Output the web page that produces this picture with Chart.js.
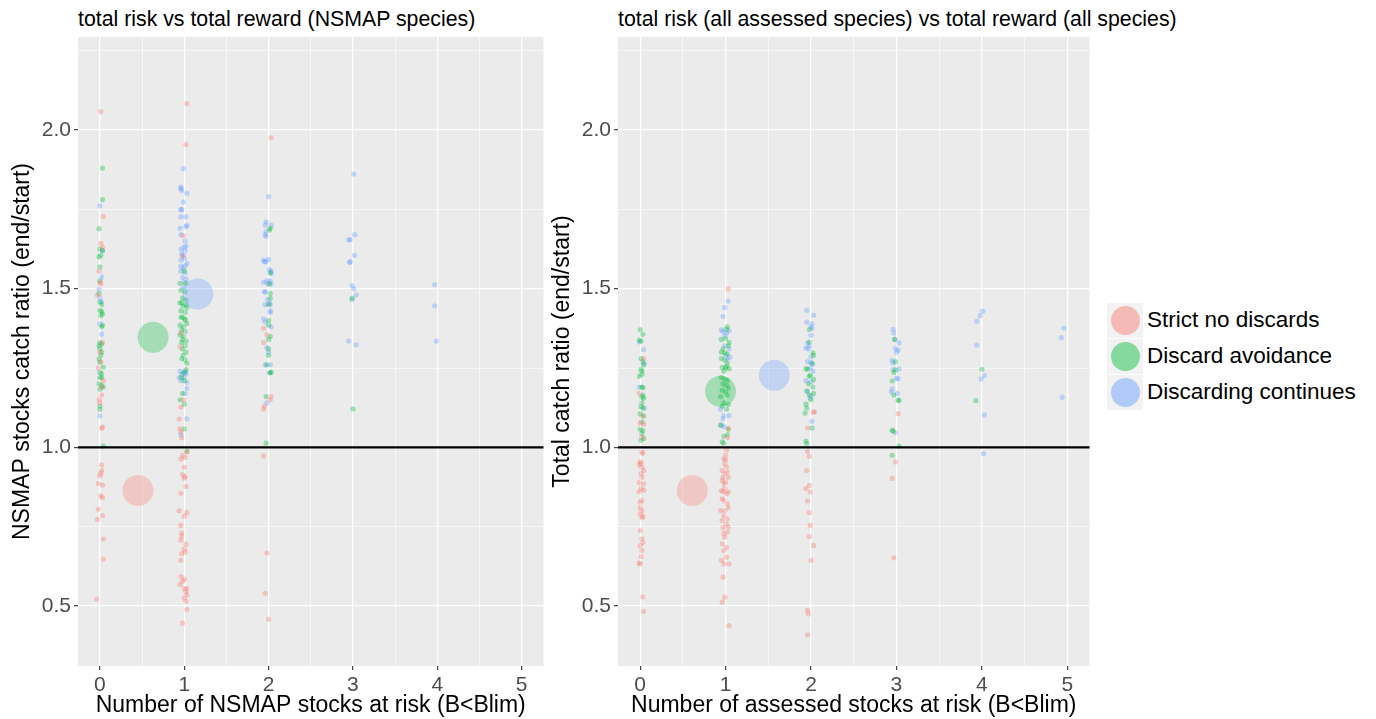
<!DOCTYPE html>
<html>
<head>
<meta charset="utf-8">
<script src="https://cdn.jsdelivr.net/npm/chart.js@4.4.1/dist/chart.umd.min.js"></script>
<style>
body { margin: 0; background: #fff; font-family: "Liberation Sans", Arial, sans-serif; }
#wrap { position: relative; width: 1376px; height: 719px; }
canvas { position: absolute; top: 0; }
.title { position: absolute; top: 6px; font-size: 21.3px; line-height: 26px; color: #000; white-space: nowrap; }
#legend { position: absolute; left: 1107px; top: 302px; }
.row { display: flex; align-items: center; height: 36px; }
.key { width: 36px; height: 35px; background: #f2f2f2; display: flex; align-items: center; justify-content: center; }
.dot { width: 29px; height: 29px; border-radius: 50%; }
.lab { font-size: 22.5px; margin-left: 4px; color: #000; white-space: nowrap; }
</style>
</head>
<body>
<div id="wrap">
  <div class="title" style="left:78px">total risk vs total reward (NSMAP species)</div>
  <div class="title" style="left:618px">total risk (all assessed species) vs total reward (all species)</div>
  <canvas id="nsmapChart" width="559" height="719" style="left:0px"></canvas>
  <canvas id="allChart" width="560" height="719" style="left:545px"></canvas>
  <div id="legend"></div>
</div>

<script>
/* DATA */

const groupNames = ['Strict no discards', 'Discard avoidance', 'Discarding continues'];
const groupColors = ['#F8766D', '#00BA38', '#619CFF'];

const xTicks = [0, 0.5, 1, 1.5, 2, 2.5, 3, 3.5, 4, 4.5, 5];
const xTickLabels = ['0', '', '1', '', '2', '', '3', '', '4', '', '5'];
const yTicks = [0.5, 0.75, 1.0, 1.25, 1.5, 1.75, 2.0, 2.25];
const yTickLabels = ['0.5', '', '1.0', '', '1.5', '', '2.0', ''];
const refValue = 1.0;

// left panel: NSMAP species, [stocks at risk (jittered), catch ratio]
const nsmapStrict = [
[0.01,2.058],[0.04,1.727],[0.01,1.643],[0.03,1.63],[-0.01,1.555],[0.0,1.52],[0.01,1.515],[-0.03,1.48],
[0.03,1.33],[0.0,1.30],[0.01,1.27],[-0.02,1.25],[0.04,1.21],[0.02,1.19],[0.02,1.165],[-0.01,1.15],[0.0,1.14],
[0.03,1.064],[0.02,1.06],[0.02,0.944],[0.02,0.927],[0.01,0.918],[0.0,0.91],[-0.02,0.886],[0.03,0.881],
[0.01,0.847],[0.03,0.842],[-0.02,0.805],[0.03,0.785],[-0.03,0.773],[0.04,0.711],[0.04,0.648],[-0.04,0.522],
[1.03,2.083],[1.02,1.954],[0.99,1.667],[0.98,1.603],[0.96,1.36],[0.95,1.316],[0.99,1.15],[0.96,1.127],
[0.94,1.089],[0.95,1.058],[0.96,1.048],[0.97,1.03],[1.03,0.985],[0.98,0.975],[1.01,0.968],[0.96,0.963],
[1.0,0.937],[0.98,0.915],[1.01,0.908],[1.0,0.903],[1.02,0.877],[0.96,0.855],[0.94,0.80],[1.03,0.795],
[1.0,0.783],[0.96,0.754],[0.97,0.73],[0.97,0.72],[0.96,0.708],[1.02,0.695],[1.0,0.68],[1.01,0.67],
[0.97,0.665],[0.96,0.644],[0.96,0.593],[1.0,0.585],[0.98,0.578],[0.95,0.568],[1.0,0.555],[1.03,0.555],
[1.02,0.545],[1.03,0.535],[1.0,0.525],[1.02,0.515],[1.03,0.489],[0.98,0.446],
[2.03,1.976],[1.94,1.375],[1.98,1.355],[1.94,1.33],[2.03,1.16],[2.02,1.15],[1.95,1.13],[1.94,1.12],
[1.94,0.973],[1.98,0.667],[1.96,0.54],[2.0,0.458]
];
const nsmapAvoid = [
[0.03,1.88],[0.03,1.781],[-0.01,1.689],[0.0,1.625],[0.03,1.62],[-0.01,1.60],[0.01,1.605],[0.0,1.569],
[0.0,1.525],[-0.01,1.485],[0.0,1.458],[0.02,1.45],[0.0,1.432],[0.02,1.428],[0.03,1.42],[0.01,1.415],
[0.03,1.385],[0.02,1.38],[0.0,1.33],[0.02,1.325],[-0.01,1.32],[0.0,1.31],[0.02,1.30],[0.01,1.29],
[-0.01,1.278],[0.0,1.268],[0.04,1.253],[0.0,1.236],[0.02,1.232],[0.0,1.22],[0.02,1.22],[-0.01,1.20],
[0.02,1.195],[0.04,1.19],[0.0,1.183],[0.0,1.13],[0.0,1.12],[0.04,1.004],
[1.0,1.555],[0.95,1.517],[1.02,1.517],[0.96,1.495],[1.01,1.49],[0.98,1.47],[1.02,1.465],[0.95,1.455],
[0.99,1.445],[0.96,1.43],[1.01,1.425],[0.98,1.41],[1.01,1.405],[0.97,1.455],[1.02,1.45],[1.03,1.44],
[0.96,1.41],[1.01,1.40],[1.03,1.39],[0.95,1.385],[0.99,1.38],[0.97,1.37],[1.01,1.365],[0.95,1.355],
[0.99,1.35],[0.98,1.34],[1.02,1.335],[0.97,1.33],[1.01,1.32],[0.98,1.31],[1.02,1.30],[0.99,1.29],
[0.97,1.28],[1.01,1.275],[1.03,1.265],[1.02,1.245],[0.99,1.235],[0.97,1.22],[1.0,1.21],[0.98,1.17],
[0.95,1.15],[1.0,1.136],[1.0,1.058],[1.03,0.988],
[2.02,1.69],[2.01,1.685],[2.02,1.55],[2.01,1.515],[2.02,1.485],[2.02,1.47],[2.0,1.45],[2.0,1.40],
[2.0,1.385],[2.02,1.35],[2.0,1.34],[2.0,1.31],[2.0,1.29],[1.98,1.26],[2.02,1.235],[2.03,1.237],
[1.97,1.16],[1.97,1.013],
[2.99,1.47],[3.0,1.121]
];
const nsmapContinue = [
[0.0,1.761],[0.03,1.62],[0.02,1.537],[-0.01,1.498],[0.0,1.47],[0.02,1.458],[0.0,1.39],[0.02,1.356],[0.0,1.099],
[0.99,1.878],[0.96,1.82],[0.97,1.81],[1.03,1.80],[0.96,1.815],[0.99,1.773],[0.96,1.749],[0.97,1.749],
[0.96,1.726],[1.02,1.726],[1.03,1.70],[1.02,1.695],[0.95,1.69],[0.96,1.67],[1.01,1.65],[1.02,1.635],
[1.0,1.63],[0.96,1.625],[1.01,1.62],[0.97,1.61],[0.99,1.605],[0.96,1.59],[1.0,1.595],[1.03,1.58],
[0.96,1.57],[1.01,1.572],[0.99,1.565],[0.96,1.555],[1.01,1.55],[0.98,1.535],[1.02,1.53],[1.0,1.52],
[0.99,1.505],[1.01,1.24],[0.95,1.24],[1.01,1.235],[0.97,1.23],[1.02,1.232],[0.94,1.22],[1.0,1.22],
[0.96,1.21],[1.03,1.205],[1.03,1.186],[1.01,1.17],[1.03,1.09],[0.96,1.04],
[2.0,1.79],[1.97,1.71],[1.96,1.70],[2.03,1.70],[1.97,1.68],[1.96,1.67],[1.97,1.665],[1.94,1.59],
[1.95,1.585],[2.0,1.592],[1.97,1.585],[2.01,1.56],[2.03,1.555],[2.03,1.548],[1.94,1.52],[1.98,1.525],
[2.02,1.525],[2.03,1.515],[1.99,1.515],[1.95,1.49],[1.96,1.49],[1.99,1.466],[2.02,1.45],[2.01,1.455],
[1.96,1.45],[2.02,1.43],[2.02,1.425],[1.94,1.405],[1.96,1.395],[2.03,1.38],[1.98,1.315],[2.0,1.30],
[2.02,1.26],[1.96,1.26],[2.01,1.235],[1.98,1.14],
[3.01,1.861],[3.02,1.67],[2.95,1.654],[2.97,1.654],[3.02,1.605],[2.96,1.583],[2.97,1.585],[2.99,1.51],
[3.01,1.50],[3.04,1.48],[2.99,1.466],[2.95,1.335],[3.04,1.323],
[3.97,1.513],[3.97,1.446],[3.99,1.335]
];
const nsmapMeanX = [0.45, 0.63, 1.16];
const nsmapMeanY = [0.864, 1.347, 1.483];

// right panel: all assessed species / all species
const allStrict = [
[0.04,1.28],[-0.01,1.17],[0.02,1.099],[0.0,1.076],[0.04,1.073],[0.02,1.032],[0.02,0.985],[0.03,0.981],
[0.0,0.954],[0.01,0.95],[-0.01,0.945],[0.02,0.937],[0.04,0.927],[0.01,0.917],[0.02,0.906],[-0.01,0.889],
[0.04,0.885],[0.01,0.87],[0.04,0.865],[-0.01,0.86],[0.02,0.833],[0.0,0.827],[0.0,0.81],[0.02,0.80],
[0.0,0.79],[0.03,0.783],[0.02,0.778],[0.0,0.738],[0.02,0.712],[0.03,0.70],[0.0,0.69],[0.02,0.675],
[0.01,0.656],[-0.01,0.635],[0.0,0.633],[0.03,0.529],[0.04,0.483],
[1.03,1.499],[1.03,1.06],[1.02,1.03],[1.01,0.991],[1.0,0.975],[0.98,0.964],[1.0,0.96],[0.99,0.948],
[1.01,0.938],[0.96,0.927],[1.02,0.922],[0.99,0.917],[1.03,0.906],[0.97,0.905],[0.96,0.896],[1.0,0.89],
[0.98,0.885],[0.99,0.87],[0.95,0.864],[1.03,0.86],[0.97,0.86],[1.01,0.854],[0.96,0.838],[0.98,0.833],
[1.02,0.822],[1.03,0.81],[0.94,0.801],[0.99,0.80],[0.98,0.785],[1.02,0.775],[0.96,0.77],[1.01,0.759],
[1.03,0.749],[0.97,0.747],[1.02,0.733],[0.98,0.728],[0.99,0.717],[0.96,0.696],[1.01,0.685],[0.98,0.675],
[1.01,0.654],[0.95,0.644],[0.98,0.633],[1.04,0.633],[0.97,0.591],[0.99,0.528],[0.96,0.512],[1.04,0.438],
[2.03,1.11],[2.04,1.112],[1.96,1.061],[1.96,0.987],[1.98,0.972],[1.95,0.927],[1.94,0.87],[1.98,0.88],
[1.99,0.859],[1.96,0.831],[1.98,0.794],[1.99,0.754],[1.98,0.719],[2.03,0.691],[2.0,0.644],[1.96,0.486],
[1.97,0.475],[1.96,0.409],
[3.02,1.106],[2.99,0.954],[2.95,0.902],[2.97,0.652]
];
const allAvoid = [
[0.0,1.371],[0.03,1.356],[-0.01,1.338],[0.01,1.335],[0.01,1.28],[0.03,1.27],[0.04,1.26],[0.01,1.246],
[0.02,1.24],[0.02,1.23],[-0.01,1.224],[0.02,1.19],[0.03,1.188],[0.03,1.165],[0.02,1.158],[0.04,1.155],
[0.02,1.14],[0.01,1.128],[0.03,1.124],[0.0,1.106],[0.04,1.099],[0.02,1.08],[0.0,1.057],[0.03,1.053],
[0.02,1.044],[0.04,1.028],[0.01,1.022],
[1.02,1.38],[1.01,1.372],[0.95,1.34],[1.0,1.343],[1.04,1.33],[1.03,1.32],[0.97,1.31],[0.95,1.30],
[0.99,1.298],[1.02,1.294],[0.95,1.28],[0.99,1.275],[1.02,1.265],[0.96,1.252],[1.01,1.255],[1.0,1.25],
[1.04,1.248],[0.98,1.24],[0.95,1.22],[0.99,1.215],[1.02,1.21],[0.97,1.20],[1.01,1.195],[1.03,1.187],
[0.96,1.18],[1.0,1.175],[1.02,1.165],[0.94,1.16],[0.98,1.14],[1.03,1.135],[0.96,1.13],[1.01,1.12],
[0.94,1.07],[1.03,1.057],[1.02,1.04],[0.98,1.035],[0.96,1.017],[0.98,1.013],
[1.98,1.371],[1.98,1.332],[2.02,1.298],[2.03,1.29],[2.01,1.265],[1.94,1.248],[1.96,1.246],[1.99,1.227],
[1.98,1.224],[2.03,1.214],[1.97,1.20],[2.02,1.19],[1.95,1.178],[2.03,1.17],[1.98,1.165],[2.0,1.15],
[1.94,1.136],[1.95,1.124],[1.93,1.108],[2.01,1.061],[1.94,1.02],[1.95,1.012],
[2.98,1.34],[2.99,1.27],[2.99,1.244],[2.97,1.236],[2.95,1.209],[2.97,1.165],[3.02,1.148],[3.03,1.148],
[2.95,1.054],[2.96,1.051],[3.03,1.004],[2.95,0.975],
[4.0,1.246],[3.93,1.147]
];
const allContinue = [
[-0.01,1.332],[0.04,1.308],[0.05,1.265],[-0.01,1.19],[0.05,1.124],
[1.03,1.461],[0.99,1.44],[0.97,1.413],[0.95,1.37],[0.97,1.365],[1.04,1.367],[1.01,1.36],[0.99,1.352],
[0.99,1.32],[1.04,1.31],[1.0,1.29],[1.05,1.284],[1.02,1.278],[0.94,1.12],[0.98,1.10],[1.04,1.10],
[0.97,1.09],[0.95,1.07],[0.98,1.065],
[1.95,1.432],[2.03,1.416],[1.95,1.395],[2.01,1.39],[2.0,1.38],[2.01,1.375],[2.0,1.353],[1.96,1.329],
[1.98,1.32],[1.94,1.313],[1.97,1.31],[2.0,1.285],[1.96,1.27],[2.0,1.268],[2.02,1.262],[1.99,1.25],
[2.02,1.24],[1.94,1.21],[2.0,1.207],[1.96,1.175],[2.0,1.163],[1.99,1.155],[2.01,1.082],
[2.96,1.372],[2.97,1.36],[2.98,1.34],[3.03,1.329],[2.99,1.312],[3.02,1.306],[3.0,1.30],[2.95,1.274],
[2.96,1.266],[3.03,1.247],[2.96,1.245],[3.0,1.218],[3.02,1.216],[2.95,1.184],[2.94,1.174],[3.01,1.17],
[2.99,1.046],
[4.01,1.429],[3.98,1.415],[3.94,1.397],[3.94,1.322],[4.03,1.226],[3.99,1.215],[4.03,1.102],[4.02,0.98],
[4.96,1.376],[4.93,1.346],[4.94,1.158]
];
const allMeanX = [0.61, 0.94, 1.57];
const allMeanY = [0.864, 1.177, 1.227];


/* HELPERS */

function fade(hex, a) {
  const n = parseInt(hex.slice(1), 16);
  return 'rgba(' + (n >> 16) + ',' + ((n >> 8) & 255) + ',' + (n & 255) + ',' + a + ')';
}

const font = '"Liberation Sans", Arial, sans-serif';

const panelBg = {
  id: 'panelBg',
  beforeDraw(chart) {
    const a = chart.chartArea;
    const ctx = chart.ctx;
    ctx.save();
    ctx.fillStyle = '#EBEBEB';
    ctx.fillRect(a.left, a.top, a.right - a.left, a.bottom - a.top);
    ctx.restore();
  }
};

const refLine = {
  id: 'refLine',
  afterDatasetsDraw(chart) {
    const a = chart.chartArea;
    const y = chart.scales.y.getPixelForValue(refValue);
    const ctx = chart.ctx;
    ctx.save();
    ctx.strokeStyle = '#000';
    ctx.lineWidth = 2.4;
    ctx.beginPath();
    ctx.moveTo(a.left, y);
    ctx.lineTo(a.right, y);
    ctx.stroke();
    ctx.restore();
  }
};

// the big mean circles add ~16px of overflow padding on the right,
// so the canvases are made that much wider instead of padding them
function riskChart(id, yWidth, yTitlePad, xTitle, yTitle, groups, meanX, meanY) {

  const datasets = groups.map((pts, i) => ({
    label: groupNames[i],
    data: pts.map(p => ({ x: p[0], y: p[1] })),
    backgroundColor: fade(groupColors[i], 0.35),
    borderWidth: 0,
    pointRadius: 2.6,
    pointHoverRadius: 2.6,
    order: 2
  }));

  datasets.push({
    label: 'means',
    data: meanX.map((x, i) => ({ x: x, y: meanY[i] })),
    backgroundColor: groupColors.map(c => fade(c, 0.3)),
    borderWidth: 0,
    pointRadius: 15.5,
    pointHoverRadius: 15.5,
    order: 1
  });

  return new Chart(document.getElementById(id), {
    type: 'scatter',
    data: { datasets: datasets },
    plugins: [panelBg, refLine],
    options: {
      responsive: false,
      animation: false,
      layout: { padding: { top: 37, right: 0, left: 0, bottom: 0 } },
      plugins: {
        legend: { display: false },
        tooltip: { enabled: false }
      },
      scales: {
        x: {
          type: 'linear',
          min: -0.26,
          max: 5.26,
          bounds: 'data',
          afterBuildTicks: s => { s.ticks = xTicks.map(v => ({ value: v })); },
          afterFit: s => { s.height = 53; s.paddingLeft = 0; s.paddingRight = 0; },
          border: { display: false },
          grid: {
            color: '#FFFFFF',
            lineWidth: c => xTickLabels[c.index] ? 1.3 : 0.6,
            tickLength: 4,
            tickWidth: 1.1,
            tickColor: c => xTickLabels[c.index] ? '#333333' : 'rgba(0,0,0,0)'
          },
          ticks: {
            autoSkip: false,
            maxRotation: 0,
            padding: 3,
            color: '#4D4D4D',
            font: { family: font, size: 21 },
            callback: (v, i) => xTickLabels[i]
          },
          title: {
            display: true,
            text: xTitle,
            color: '#000',
            font: { family: font, size: 23 },
            padding: { top: 0, bottom: 0 }
          }
        },
        y: {
          type: 'linear',
          min: 0.311,
          max: 2.293,
          bounds: 'data',
          afterBuildTicks: s => { s.ticks = yTicks.map(v => ({ value: v })); },
          afterFit: s => { s.width = yWidth; s.paddingTop = 0; s.paddingBottom = 0; },
          border: { display: false },
          grid: {
            color: '#FFFFFF',
            lineWidth: c => yTickLabels[c.index] ? 1.3 : 0.6,
            tickLength: 4,
            tickWidth: 1.1,
            tickColor: c => yTickLabels[c.index] ? '#333333' : 'rgba(0,0,0,0)'
          },
          ticks: {
            autoSkip: false,
            padding: 3,
            color: '#4D4D4D',
            font: { family: font, size: 21 },
            callback: (v, i) => yTickLabels[i]
          },
          title: {
            display: true,
            text: yTitle,
            color: '#000',
            font: { family: font, size: 23 },
            padding: { top: yTitlePad, bottom: 0 }
          }
        }
      }
    }
  });
}


/* CHARTS */

riskChart('nsmapChart', 78, 9,
  'Number of NSMAP stocks at risk (B<Blim)',
  'NSMAP stocks catch ratio (end/start)',
  [nsmapStrict, nsmapAvoid, nsmapContinue], nsmapMeanX, nsmapMeanY);

riskChart('allChart', 73, 4,
  'Number of assessed stocks at risk (B<Blim)',
  'Total catch ratio (end/start)',
  [allStrict, allAvoid, allContinue], allMeanX, allMeanY);


/* LEGEND */

const legend = document.getElementById('legend');
groupNames.forEach((name, i) => {
  const row = document.createElement('div');
  row.className = 'row';
  row.innerHTML = '<div class="key"><div class="dot" style="background:' + fade(groupColors[i], 0.45) +
    '"></div></div><div class="lab">' + name + '</div>';
  legend.appendChild(row);
});
</script>
</body>
</html>
